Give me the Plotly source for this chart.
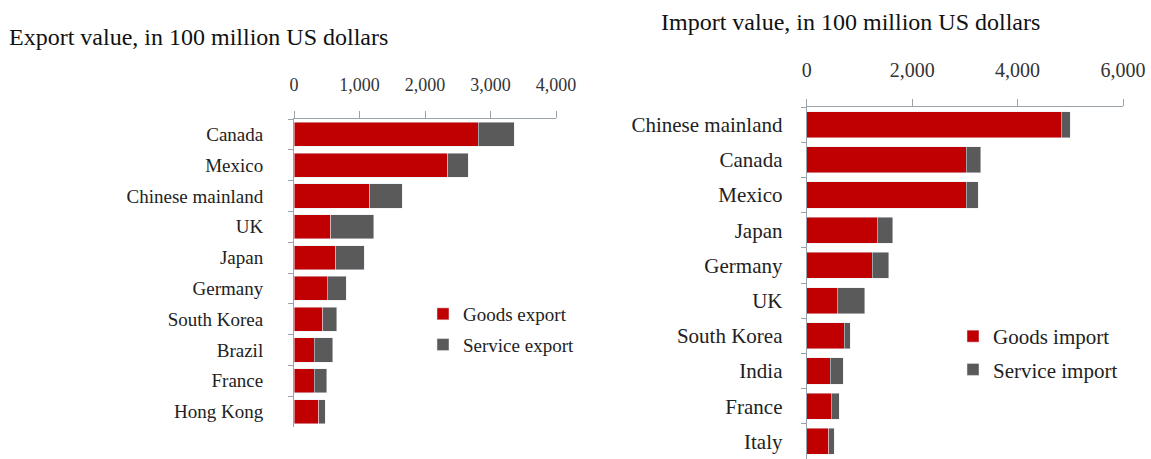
import plotly.graph_objects as go

# Export partners and values (100 million US dollars)
export_countries = ["Canada", "Mexico", "Chinese mainland", "UK", "Japan",
                    "Germany", "South Korea", "Brazil", "France", "Hong Kong"]
goods_export = [2810, 2350, 1160, 560, 640, 510, 440, 310, 310, 380]
service_export = [550, 310, 490, 660, 430, 290, 210, 280, 190, 95]

# Import partners and values (100 million US dollars)
import_countries = ["Chinese mainland", "Canada", "Mexico", "Japan", "Germany",
                    "UK", "South Korea", "India", "France", "Italy"]
goods_import = [4830, 3030, 3030, 1340, 1240, 580, 710, 450, 470, 420]
service_import = [170, 270, 220, 290, 320, 520, 115, 240, 150, 100]

export_ticks = [0, 1000, 2000, 3000, 4000]
import_ticks = [0, 2000, 4000, 6000]

RED = "#C00000"
GREY = "#5A5A5A"
AXIS = "#9AA3AA"
SERIF = "Liberation Serif, Times New Roman, serif"

W, H = 1151, 459


def px_x(x):
    return x / W


def px_y(y):
    return 1 - y / H


fig = go.Figure()

fig.add_trace(go.Bar(y=export_countries, x=goods_export, orientation="h",
                     name="Goods export", marker_color=RED, width=0.78,
                     xaxis="x", yaxis="y", legend="legend", legendgroup="ge"))
fig.add_trace(go.Bar(y=export_countries, x=service_export, orientation="h",
                     name="Service export", marker_color=GREY, width=0.78,
                     xaxis="x", yaxis="y", legend="legend", legendgroup="se"))
fig.add_trace(go.Bar(y=import_countries, x=goods_import, orientation="h",
                     name="Goods import", marker_color=RED, width=0.74,
                     xaxis="x2", yaxis="y2", legend="legend2", legendgroup="gi"))
fig.add_trace(go.Bar(y=import_countries, x=service_import, orientation="h",
                     name="Service import", marker_color=GREY, width=0.74,
                     xaxis="x2", yaxis="y2", legend="legend2", legendgroup="si"))

common_x = dict(side="top", showline=True, linecolor=AXIS, linewidth=1,
                ticks="outside", ticklen=7, tickcolor=AXIS, tickwidth=1,
                showgrid=False, zeroline=False, tickformat=",d",
                fixedrange=True, automargin=False)
common_y = dict(type="category", showline=True, linecolor=AXIS, linewidth=1,
                ticks="outside", ticklen=5, tickcolor=AXIS, tickwidth=1,
                tickson="boundaries", showgrid=False, zeroline=False,
                fixedrange=True, automargin=False)

fig.update_layout(
    width=W, height=H,
    margin=dict(l=0, r=0, t=0, b=0, autoexpand=False),
    paper_bgcolor="white", plot_bgcolor="white",
    barmode="stack",
    showlegend=True,
    font=dict(family=SERIF, color="#222222"),
    xaxis=dict(domain=[px_x(294), px_x(556)], range=[0, 4000],
               tickvals=export_ticks, anchor="y",
               tickfont=dict(size=18, color="#333333"),
               ticklabelstandoff=13, **common_x),
    yaxis=dict(domain=[px_y(427), px_y(119)], range=[9.5, -0.5],
               categoryorder="array", categoryarray=export_countries,
               anchor="x", tickfont=dict(size=19, color="#222222"),
               ticklabelstandoff=26, **common_y),
    xaxis2=dict(domain=[px_x(806.7), px_x(1123)], range=[0, 6000],
                tickvals=import_ticks, anchor="y2",
                tickfont=dict(size=20, color="#333333"),
                ticklabelstandoff=14, **common_x),
    yaxis2=dict(domain=[0, px_y(107)], range=[9.5, -0.5],
                categoryorder="array", categoryarray=import_countries,
                anchor="x2", tickfont=dict(size=21, color="#222222"),
                ticklabelstandoff=19, **common_y),
    legend=dict(x=px_x(423), y=px_y(295), xanchor="left", yanchor="top",
                font=dict(size=19, color="#222222"), bgcolor="rgba(0,0,0,0)",
                tracegroupgap=3, itemclick=False, itemdoubleclick=False),
    legend2=dict(x=px_x(953), y=px_y(316), xanchor="left", yanchor="top",
                 font=dict(size=21, color="#222222"), bgcolor="rgba(0,0,0,0)",
                 tracegroupgap=3, itemclick=False, itemdoubleclick=False),
    annotations=[
        dict(text="Export value, in 100 million US dollars", xref="paper",
             yref="paper", x=px_x(7), y=px_y(37), xanchor="left",
             yanchor="middle", showarrow=False,
             font=dict(size=24, color="#111111", family=SERIF)),
        dict(text="Import value, in 100 million US dollars", xref="paper",
             yref="paper", x=px_x(659), y=px_y(22), xanchor="left",
             yanchor="middle", showarrow=False,
             font=dict(size=24, color="#111111", family=SERIF)),
    ],
)

fig.write_html("out.html")
